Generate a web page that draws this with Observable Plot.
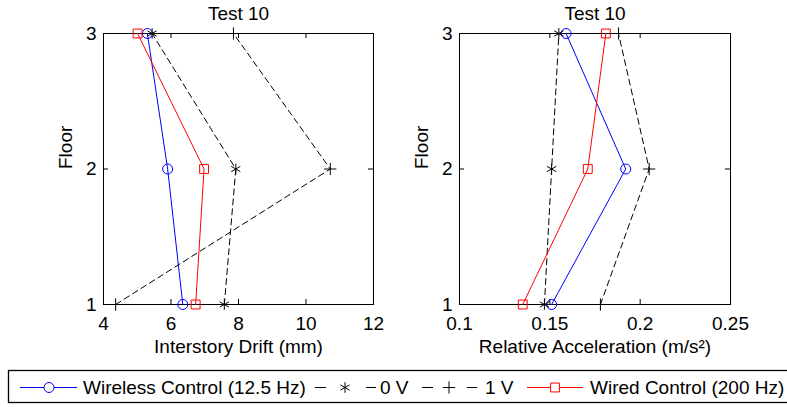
<!DOCTYPE html>
<html><head><meta charset="utf-8">
<script src="https://cdn.jsdelivr.net/npm/d3@7"></script>
<script src="https://cdn.jsdelivr.net/npm/@observablehq/plot@0.6"></script>
<style>
body{margin:0;background:#fff;font-family:"Liberation Sans",Arial,sans-serif;}
#wrap{position:relative;width:787px;height:407px;overflow:hidden;background:#fff;}
#wrap svg{position:absolute;font-family:"Liberation Sans",Arial,sans-serif;}
</style></head><body><div id="wrap"></div>
<script>
// ---- data ----
const floors = [1, 2, 3];
const seriesNames = ["Wireless Control (12.5 Hz)", "0 V", "1 V", "Wired Control (200 Hz)"];
const seriesColors = ["#0000ff", "#000000", "#000000", "#ff0000"];
const seriesDashed = [false, true, true, false];
const seriesSymbols = ["circle", "asterisk", "plus", "square"];

const driftWireless = [6.35, 5.9, 5.3];
const drift0V = [7.58, 7.92, 5.44];
const drift1V = [4.36, 10.72, 7.85];
const driftWired = [6.73, 6.98, 5.01];

const accWireless = [0.151, 0.192, 0.159];
const acc0V = [0.147, 0.151, 0.155];
const acc1V = [0.178, 0.205, 0.188];
const accWired = [0.135, 0.171, 0.181];

const driftTicks = [4, 6, 8, 10, 12];
const accTicks = [0.1, 0.15, 0.2, 0.25];
const floorTicks = [1, 2, 3];

const panelTitle = "Test 10";
const driftLabel = "Interstory Drift (mm)";
const accLabel = "Relative Acceleration (m/s\u00B2)";
const floorLabel = "Floor";

// ---- layout ----
const FS = 19;
const H = 365, MT = 33, MB = 61;
const FH = H - MT - MB;

function panel({left, width, ml, mr, domain, ticks, label, series}) {
  const FW = width - ml - mr;
  const marks = [Plot.frame({stroke: "black", strokeWidth: 1})];
  // inward ticks on all four sides
  marks.push(Plot.tickX(ticks, {x: d => d, insetTop: FH - 5, stroke: "black"}));
  marks.push(Plot.tickX(ticks, {x: d => d, insetBottom: FH - 5, stroke: "black"}));
  marks.push(Plot.tickY(floorTicks, {y: d => d, insetRight: FW - 5, stroke: "black"}));
  marks.push(Plot.tickY(floorTicks, {y: d => d, insetLeft: FW - 5, stroke: "black"}));
  marks.push(Plot.axisX(ticks, {anchor: "bottom", tickSize: 0, tickPadding: 12, fontSize: FS, label: null, tickFormat: d => String(d)}));
  marks.push(Plot.axisY(floorTicks, {anchor: "left", tickSize: 0, tickPadding: 7, fontSize: FS, label: null, tickFormat: d => String(d)}));
  series.forEach((vals, i) => {
    const data = floors.map((f, j) => ({floor: f, v: vals[j]}));
    marks.push(Plot.line(data, {x: "v", y: "floor", stroke: seriesColors[i], strokeWidth: 1,
      strokeDasharray: seriesDashed[i] ? "6,4" : null}));
    marks.push(Plot.dot(data, {x: "v", y: "floor", symbol: seriesSymbols[i],
      r: seriesSymbols[i] === "plus" ? 4 : 5, stroke: seriesColors[i], fill: "none", strokeWidth: 1}));
  });
  marks.push(Plot.text([panelTitle], {frameAnchor: "top", lineAnchor: "middle", dy: -20, text: d => d, fontSize: FS, fill: "black"}));
  marks.push(Plot.text([label], {frameAnchor: "bottom", lineAnchor: "middle", dy: 42, text: d => d, fontSize: FS, fill: "black"}));
  marks.push(Plot.text([floorLabel], {frameAnchor: "left", lineAnchor: "middle", dx: -38, rotate: -90, text: d => d, fontSize: FS, fill: "black"}));
  const svg = Plot.plot({
    width, height: H, marginLeft: ml, marginRight: mr, marginTop: MT, marginBottom: MB,
    x: {domain}, y: {domain: [1, 3]},
    style: {fontFamily: "Liberation Sans, Arial, sans-serif", fontSize: FS + "px", background: "white", overflow: "visible"},
    marks
  });
  svg.style.left = left + "px";
  svg.style.top = "0px";
  return svg;
}

const wrap = document.getElementById("wrap");
wrap.appendChild(panel({left: 0, width: 393, ml: 103, mr: 20, domain: [4, 12], ticks: driftTicks, label: driftLabel,
  series: [driftWireless, drift0V, drift1V, driftWired]}));
wrap.appendChild(panel({left: 393, width: 394, ml: 66, mr: 57, domain: [0.1, 0.25], ticks: accTicks, label: accLabel,
  series: [accWireless, acc0V, acc1V, accWired]}));

// ---- legend ----
const legendItems = [
  {line: [20, 77], sym: 49, text: 83},
  {line: [315, 376], sym: 345, text: 380},
  {line: [422, 477], sym: 449, text: 485},
  {line: [527, 583], sym: 555, text: 590}
];
const leg = d3.create("svg").attr("width", 787).attr("height", 42)
  .style("left", "0px").style("top", "365px");
leg.append("rect").attr("x", 8.5).attr("y", 5.5).attr("width", 800).attr("height", 32)
  .attr("fill", "white").attr("stroke", "black").attr("stroke-width", 1.3);
const cy = 22;
const symMap = {circle: d3.symbolCircle, asterisk: d3.symbolAsterisk, plus: d3.symbolPlus, square: d3.symbolSquare};
seriesNames.forEach((name, i) => {
  const it = legendItems[i];
  const g = leg.append("g");
  if (seriesDashed[i]) {
    g.append("line").attr("x1", it.line[0]).attr("x2", it.line[0] + 11).attr("y1", cy + 0.5).attr("y2", cy + 0.5).attr("stroke", seriesColors[i]);
    g.append("line").attr("x1", it.line[1] - 10).attr("x2", it.line[1]).attr("y1", cy + 0.5).attr("y2", cy + 0.5).attr("stroke", seriesColors[i]);
  } else {
    g.append("line").attr("x1", it.line[0]).attr("x2", it.line[1]).attr("y1", cy + 0.5).attr("y2", cy + 0.5).attr("stroke", seriesColors[i]);
  }
  const r = seriesSymbols[i] === "plus" ? 4 : 5;
  g.append("path").attr("d", d3.symbol(symMap[seriesSymbols[i]], Math.PI * r * r)())
    .attr("transform", `translate(${it.sym},${cy + 0.5})`)
    .attr("fill", seriesSymbols[i] === "circle" || seriesSymbols[i] === "square" ? "white" : "none")
    .attr("stroke", seriesColors[i]);
  g.append("text").attr("x", it.text).attr("y", cy).attr("dy", "0.35em")
    .attr("font-size", FS).attr("fill", "black").text(name);
});
wrap.appendChild(leg.node());
</script>
</body></html>
